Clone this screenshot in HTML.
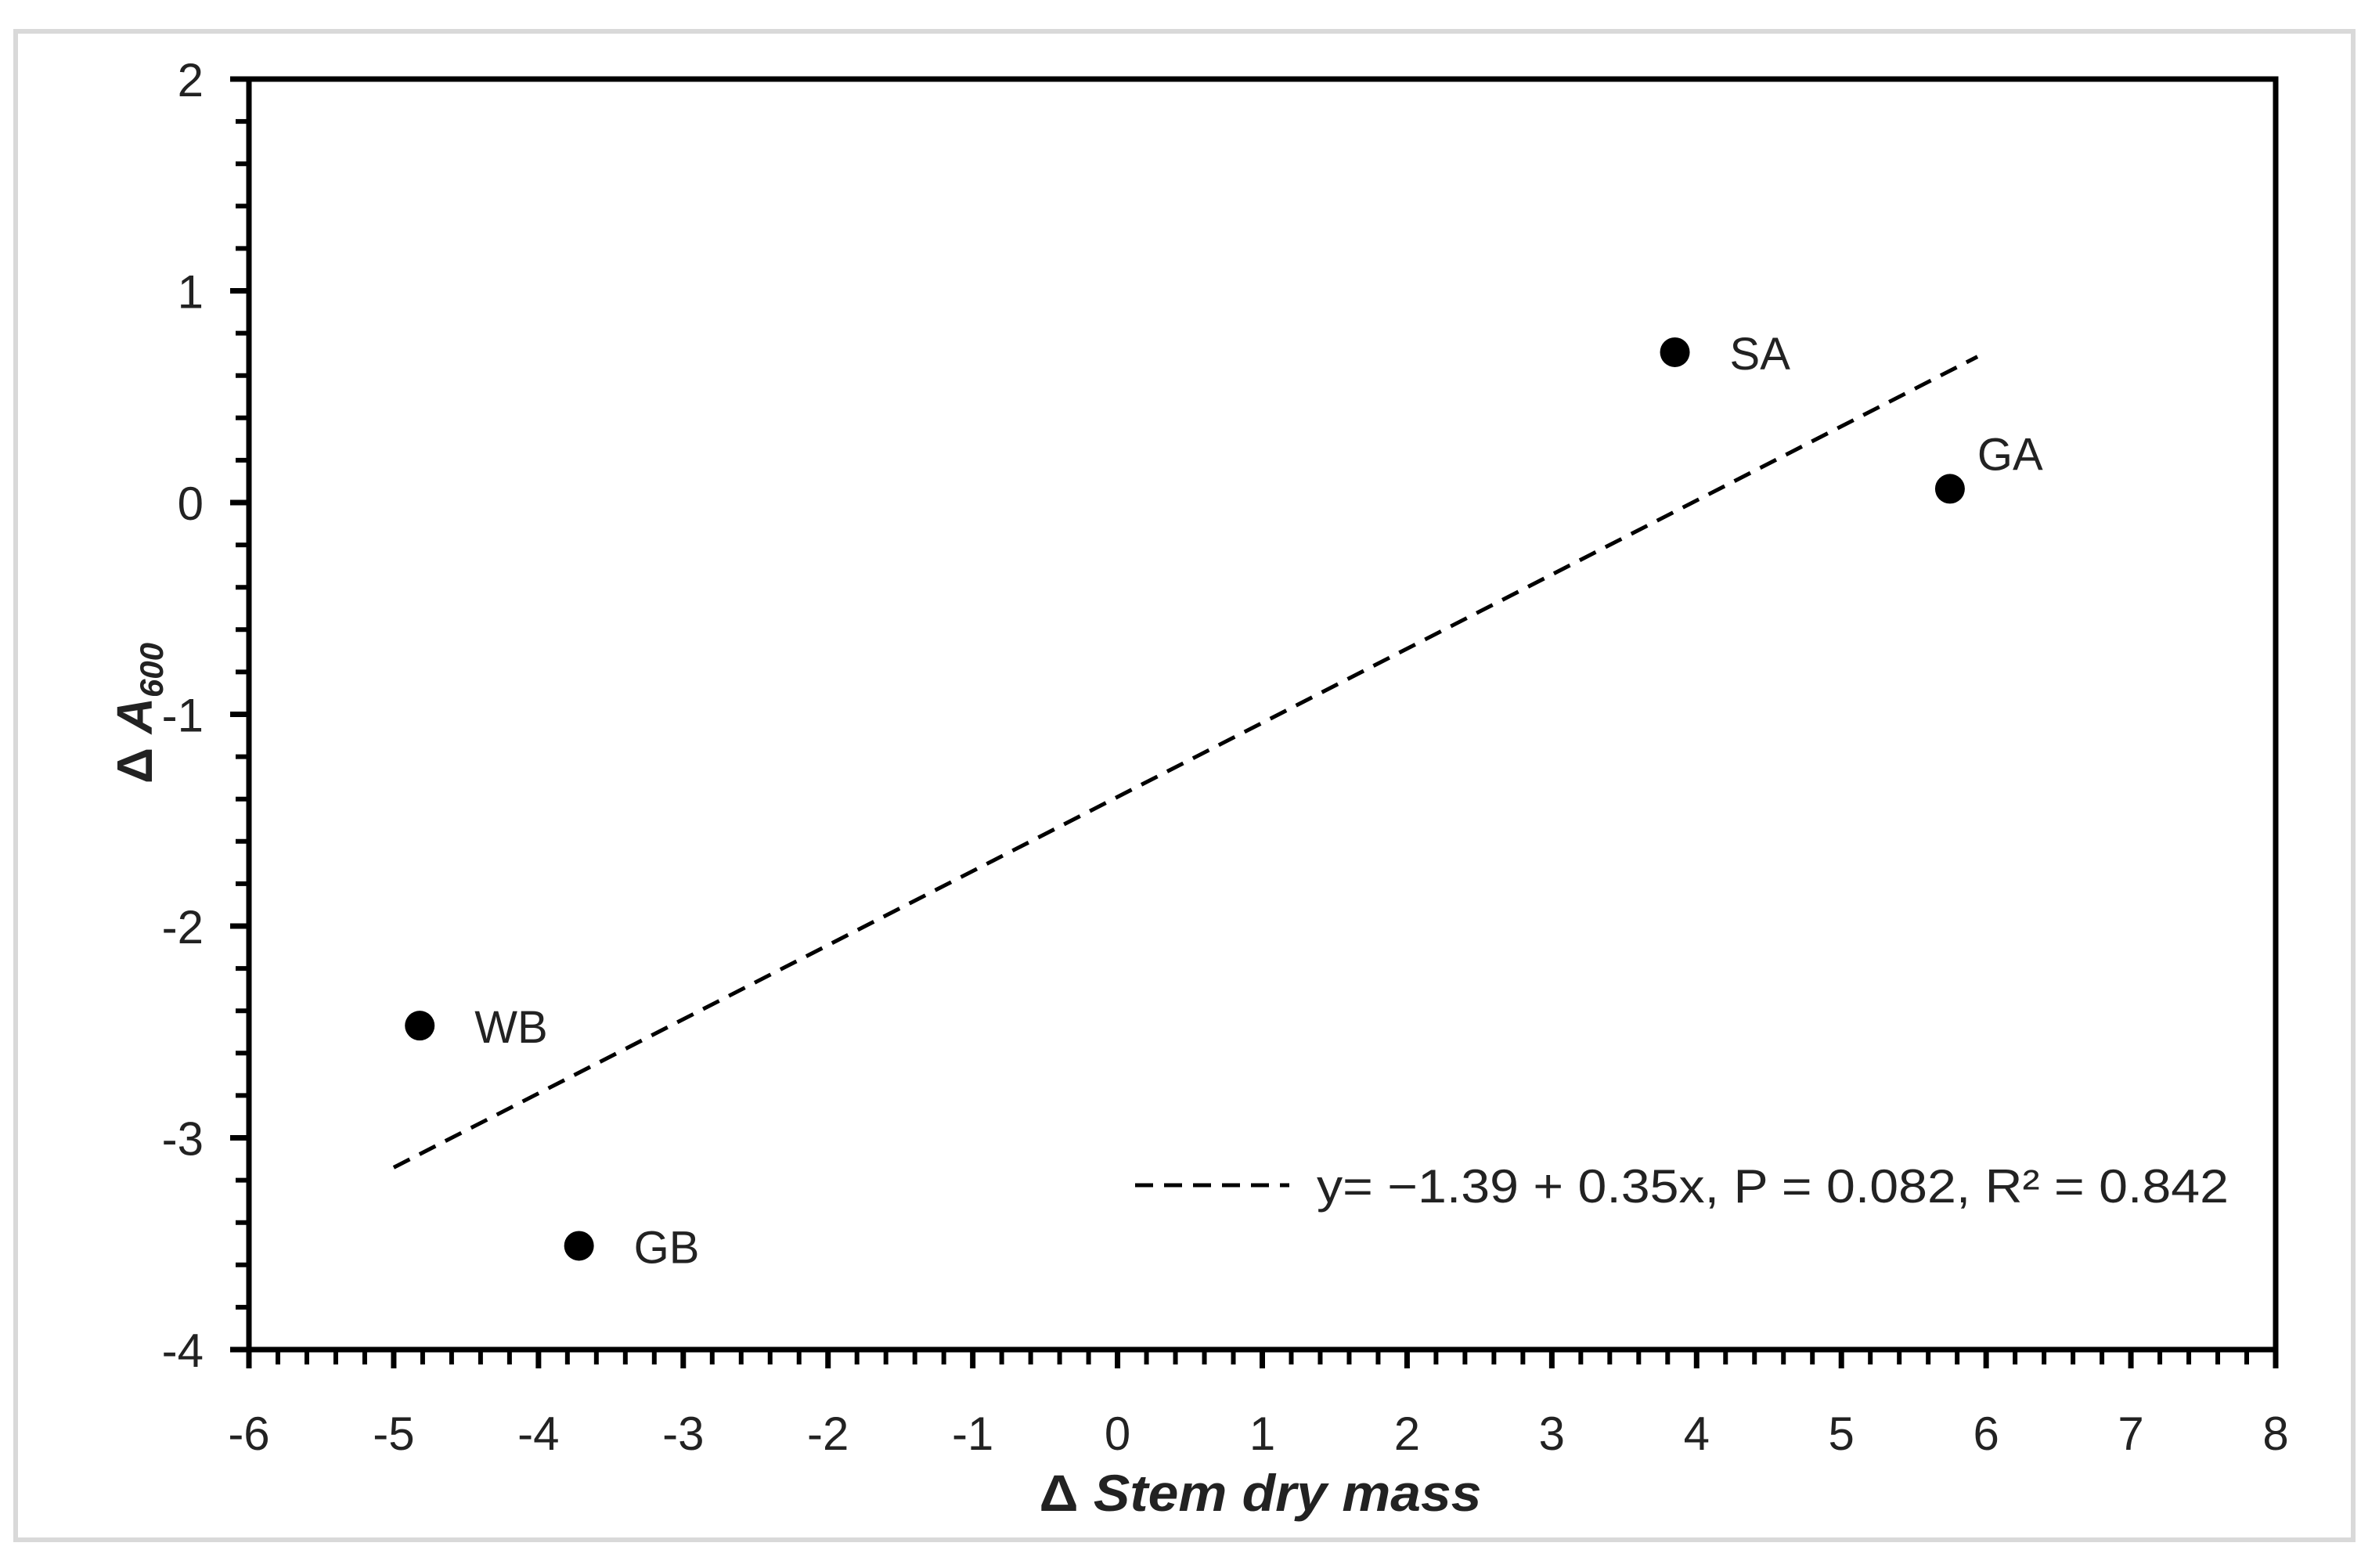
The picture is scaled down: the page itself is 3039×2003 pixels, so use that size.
<!DOCTYPE html>
<html><head><meta charset="utf-8"><style>
html,body{margin:0;padding:0;background:#fff;}
svg{display:block;font-family:"Liberation Sans",sans-serif;}
</style></head><body>
<svg id="chart" width="3039" height="2003" viewBox="0 0 3039 2003" xmlns="http://www.w3.org/2000/svg">
<rect x="20" y="40" width="2986" height="1927" fill="#fff" stroke="#d9d9d9" stroke-width="6"/>
<g id="ticks"></g>
<g id="marks"></g>
<text x="1610" y="1930" font-size="66" font-weight="bold" text-anchor="middle" fill="#222" textLength="565" lengthAdjust="spacingAndGlyphs">Δ <tspan font-style="italic">Stem dry mass</tspan></text>
<text transform="translate(194,911) rotate(-90)" font-size="64" font-weight="bold" text-anchor="middle" fill="#222">Δ <tspan font-style="italic">A</tspan><tspan font-style="italic" font-size="42" dy="14">600</tspan></text>
<line x1="1450" y1="1514" x2="1647" y2="1514" stroke="#000" stroke-width="5" stroke-dasharray="23,14"/>
<text x="1682" y="1536" font-size="60" fill="#222" textLength="1165" lengthAdjust="spacingAndGlyphs">y= −1.39 + 0.35x, P = 0.082, R² = 0.842</text>
</svg>
<script>
const xTicks=[-6,-5,-4,-3,-2,-1,0,1,2,3,4,5,6,7,8];
const yTicks=[2,1,0,-1,-2,-3,-4];
const pointLabels=["SA","GA","WB","GB"];
const pointX=[3.85,5.75,-4.82,-3.72];
const pointY=[0.71,0.065,-2.47,-3.51];
const trendIntercept=-1.39;
const trendSlope=0.35;
const trendRange=[-5,5.94];

const L=318,R=2907,T=101,B=1724;
const xMin=-6,xMax=8,yMin=-4,yMax=2;
const sx=v=>L+(v-xMin)/(xMax-xMin)*(R-L);
const sy=v=>B-(v-yMin)/(yMax-yMin)*(B-T);
const NS="http://www.w3.org/2000/svg";
function mk(tag,attrs,parent){const e=document.createElementNS(NS,tag);for(const k in attrs)e.setAttribute(k,attrs[k]);parent.appendChild(e);return e;}
const tg=document.getElementById('ticks'), mg=document.getElementById('marks');

for(let i=0;i<(xMax-xMin)*5;i++){const v=xMin+i*0.2;if(Math.abs(v-Math.round(v))<1e-6)continue;
const t=mk('line',{x1:sx(v),x2:sx(v),y1:B,y2:B+19,stroke:'#000','stroke-width':6},tg);

}
for(let i=0;i<(yMax-yMin)*5;i++){const v=yMin+i*0.2;if(Math.abs(v-Math.round(v))<1e-6)continue;
const t=mk('line',{x1:L-17,x2:L,y1:sy(v),y2:sy(v),stroke:'#000','stroke-width':6},tg);

}
xTicks.forEach(v=>{
const t=mk('line',{x1:sx(v),x2:sx(v),y1:B,y2:B+24,stroke:'#000','stroke-width':7},tg);


const s=mk('text',{x:sx(v),y:1852,'font-size':60,'text-anchor':'middle',fill:'#222'},tg);
s.textContent=String(v);

});
yTicks.forEach(v=>{
const t=mk('line',{x1:L-24,x2:L,y1:sy(v),y2:sy(v),stroke:'#000','stroke-width':7},tg);


const s=mk('text',{x:260,y:sy(v)+22,'font-size':60,'text-anchor':'end',fill:'#222'},tg);
s.textContent=String(v);

});
const ax=mk('rect',{x:L,y:T,width:R-L,height:B-T,fill:'none',stroke:'#000','stroke-width':7},tg);


const tl=mk('line',{x1:sx(trendRange[0]),y1:sy(trendIntercept+trendSlope*trendRange[0]),x2:sx(trendRange[1]),y2:sy(trendIntercept+trendSlope*trendRange[1]),stroke:'#000','stroke-width':5,'stroke-dasharray':'23,14'},mg);


const lblOff={SA:[70,0],GA:[35,-46],WB:[70,0],GB:[70,0]};
pointLabels.forEach((lab,i)=>{
const c=mk('circle',{cx:sx(pointX[i]),cy:sy(pointY[i]),r:19,fill:'#000'},mg);


const o=lblOff[lab]||[70,0];
const t=mk('text',{x:sx(pointX[i])+o[0],y:sy(pointY[i])+o[1]+22,'font-size':58,fill:'#222'},mg);
t.textContent=lab;

});
</script>
</body></html>
